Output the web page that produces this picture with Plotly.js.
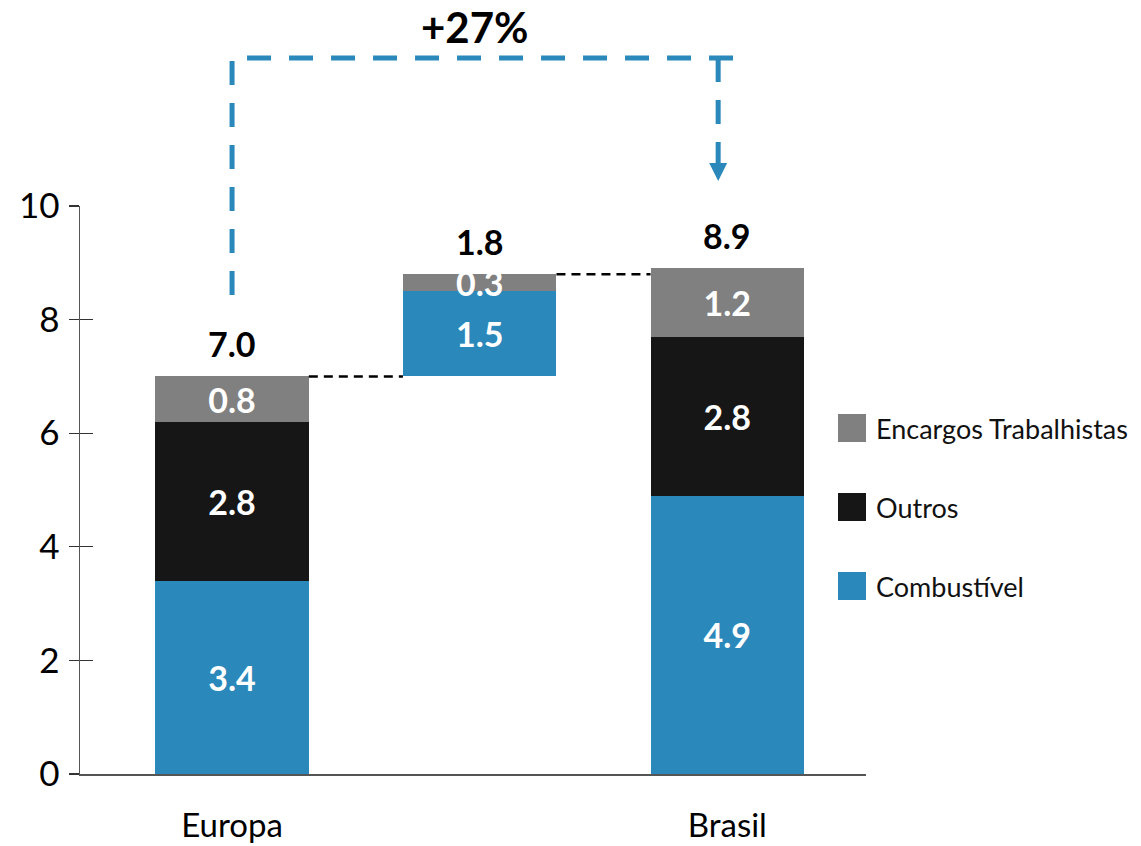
<!DOCTYPE html>
<html>
<head>
<meta charset="utf-8">
<script src="https://cdn.plot.ly/plotly-3.0.1.min.js"></script>
<style>html,body{margin:0;padding:0;background:#fff;}#chart{width:1141px;height:846px;}</style>
</head>
<body>
<div id="chart"></div>
<script>
// ---- data ----
var categories = ["Europa", "", "Brasil"];
var xPos = [0, 1, 2];
var seriesNames = ["Combustível", "Outros", "Encargos Trabalhistas"];
var combustivel = [3.4, 1.5, 4.9];
var outros = [2.8, null, 2.8];
var encargos = [0.8, 0.3, 1.2];
var totals = [7.0, 1.8, 8.9];
var yTicks = [0, 2, 4, 6, 8, 10];

var colors = { blue: "#2B88BA", black: "#161616", gray: "#808080" };
var FONT = "Lato, 'Open Sans', sans-serif";
var xr = [-0.614, 2.56];
var barW = 0.62;

// base for the bridge (middle) bar = Europa total
var base = [0, totals[0], 0];
var tops = xPos.map(function (_, i) { return base[i] + totals[i]; });

function fmt(arr) { return arr.map(function (v) { return v == null ? "" : v.toFixed(1); }); }

var common = {
  type: "bar", x: xPos, width: barW,
  textposition: "inside", insidetextanchor: "middle", textangle: 0,
  constraintext: "none",
  textfont: { family: FONT, size: 34, color: "#ffffff", weight: 700 },
  hoverinfo: "skip", showlegend: false
};

var traces = [
  Object.assign({}, common, { name: "base", y: base, marker: { color: "rgba(0,0,0,0)" }, text: base.map(function(){return "";}) }),
  Object.assign({}, common, { name: seriesNames[0], y: combustivel, marker: { color: colors.blue }, text: fmt(combustivel) }),
  Object.assign({}, common, { name: seriesNames[1], y: outros, marker: { color: colors.black }, text: fmt(outros) }),
  Object.assign({}, common, { name: seriesNames[2], y: encargos, marker: { color: colors.gray }, text: fmt(encargos) })
];

// connector dashed lines between bar tops
for (var i = 0; i < xPos.length - 1; i++) {
  traces.push({
    type: "scatter", mode: "lines",
    x: [xPos[i] + barW / 2, xPos[i + 1] - barW / 2],
    y: [tops[i], tops[i]],
    line: { color: "#000", width: 2.5, dash: "9px,6px" },
    hoverinfo: "skip", showlegend: false
  });
}
// dummy trace on y2 so the overlay axis (crossing ticks) is drawn
traces.push({ type: "scatter", mode: "markers", x: [xPos[0]], y: [0], yaxis: "y2", marker: { opacity: 0 }, hoverinfo: "skip", showlegend: false });

// total labels above bars
var annotations = xPos.map(function (x, i) {
  return {
    x: x, y: tops[i], xref: "x", yref: "y", yanchor: "bottom", yshift: 10,
    text: totals[i].toFixed(1), showarrow: false,
    font: { family: FONT, size: 34, color: "#000", weight: 700 }
  };
});

// percent change label
var pct = Math.round((totals[2] / totals[0] - 1) * 100);
function px2(x) { return (x - xr[0]) / (xr[1] - xr[0]); }
var PH = 774 - 206;
function py(pix) { return (774 - pix) / PH; }
var yTop = py(58), yLeftStart = py(295), yArrowBase = py(163), yTip = py(181);
var xLeft = px2(xPos[0]), xRight = px2(xPos[2] - 0.037), xEnd = px2(xPos[2] + 0.06);
var ah = 9 / 786;
annotations.push({
  xref: "paper", yref: "paper", x: (xLeft + xRight) / 2, y: py(27), yanchor: "middle",
  text: (pct >= 0 ? "+" : "") + pct + "%", showarrow: false,
  font: { family: FONT, size: 42, color: "#000", weight: 700 }
});

// manual legend (top to bottom: Encargos, Outros, Combustível)
var legendItems = [
  { name: seriesNames[2], color: colors.gray },
  { name: seriesNames[1], color: colors.black },
  { name: seriesNames[0], color: colors.blue }
];
var legPix = [428, 507, 586];
var shapes = [];
legendItems.forEach(function (it, k) {
  var yc = py(legPix[k]);
  shapes.push({ type: "rect", xref: "paper", yref: "paper",
    x0: (838 - 80) / 786, x1: (866 - 80) / 786, y0: yc - 14 / PH, y1: yc + 14 / PH,
    fillcolor: it.color, line: { width: 0 } });
  annotations.push({ xref: "paper", yref: "paper", x: (874 - 80) / 786, y: yc, xanchor: "left", yanchor: "middle",
    text: it.name, showarrow: false, font: { family: FONT, size: 27, color: "#111" } });
});

// blue dashed bracket arrow
shapes.push({ type: "path", xref: "paper", yref: "paper",
  path: "M" + xLeft + "," + yLeftStart + " L" + xLeft + "," + yTop + " L" + xEnd + "," + yTop,
  line: { color: colors.blue, width: 5, dash: "24px,18px" } });
shapes.push({ type: "path", xref: "paper", yref: "paper",
  path: "M" + xRight + "," + yTop + " L" + xRight + "," + yArrowBase,
  line: { color: colors.blue, width: 5, dash: "24px,18px" } });
shapes.push({ type: "path", xref: "paper", yref: "paper",
  path: "M" + (xRight - ah) + "," + yArrowBase + " L" + (xRight + ah) + "," + yArrowBase + " L" + xRight + "," + yTip + " Z",
  fillcolor: colors.blue, line: { width: 0 } });

var layout = {
  width: 1141, height: 846,
  margin: { l: 80, r: 275, t: 206, b: 72 },
  paper_bgcolor: "#fff", plot_bgcolor: "#fff",
  barmode: "stack", bargap: 0,
  showlegend: false,
  font: { family: FONT, color: "#000" },
  xaxis: {
    range: xr, tickvals: xPos, ticktext: categories, ticks: "",
    showgrid: false, zeroline: false, showline: true, linecolor: "#555", linewidth: 1.5,
    tickfont: { family: FONT, size: 33, color: "#000" }, ticklabelstandoff: 22, fixedrange: true
  },
  yaxis: {
    range: [0, 10], tickvals: yTicks, ticks: "outside", ticklen: 10, tickwidth: 1.2, tickcolor: "#333",
    showgrid: false, zeroline: false, showline: true, linecolor: "#555", linewidth: 1.5,
    tickfont: { family: FONT, size: 35, color: "#000" }, ticklabelstandoff: 2, fixedrange: true
  },
  yaxis2: {
    overlaying: "y", matches: "y", anchor: "x", side: "left",
    tickvals: yTicks, ticks: "inside", ticklen: 13, tickwidth: 1.2, tickcolor: "#333",
    showticklabels: false, showgrid: false, zeroline: false, showline: false, fixedrange: true
  },
  annotations: annotations,
  shapes: shapes
};

Plotly.newPlot("chart", traces, layout, { displayModeBar: false, staticPlot: true });
</script>
</body>
</html>
